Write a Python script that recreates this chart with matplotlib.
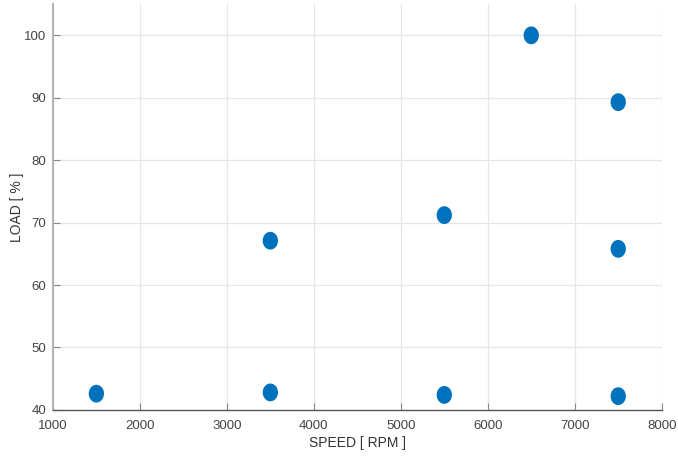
import numpy as np
import matplotlib
matplotlib.use("Agg")
import matplotlib.pyplot as plt
from matplotlib.path import Path
from matplotlib.markers import MarkerStyle

speed = [1500, 3500, 3500, 5500, 5500, 6500, 7500, 7500, 7500]
load = [42.6, 42.8, 67.1, 71.2, 42.4, 100.0, 89.3, 65.8, 42.2]
xticks = [1000, 2000, 3000, 4000, 5000, 6000, 7000, 8000]
yticks = [40, 50, 60, 70, 80, 90, 100]

plt.rcParams['font.family'] = ['Liberation Sans', 'DejaVu Sans']

fig = plt.figure(figsize=(6.78, 4.59), dpi=100)
ax = fig.add_axes([0.078, 0.107, 0.898, 0.884])

t = np.linspace(0, 2 * np.pi, 60)
ell = Path(np.column_stack([0.86 * np.cos(t), np.sin(t)]), closed=True)
ax.scatter(speed, load, marker=MarkerStyle(ell), s=12.8**2, color='#0072BD',
           edgecolors='none', zorder=3)

ax.set_xlim(1000, 8000)
ax.set_ylim(40, 105)
ax.set_xticks(xticks)
ax.set_yticks(yticks)
ax.grid(True, color='#e6e6e6', linewidth=0.9)
ax.set_axisbelow(True)
for s in ['top', 'right']:
    ax.spines[s].set_visible(False)
ax.spines['left'].set_color('#b5b5b5')
ax.spines['left'].set_linewidth(1.5)
ax.spines['bottom'].set_color('#555555')
ax.spines['bottom'].set_linewidth(1.0)
ax.tick_params(direction='in', length=5, width=0.8, colors='#888888',
               labelcolor='#444444', labelsize=9.5)
ax.tick_params(axis='x', pad=7)
ax.tick_params(axis='y', pad=5)
ax.set_xlabel('SPEED [ RPM ]', fontsize=10, color='#333333', labelpad=3)
ax.set_ylabel('LOAD [ % ]', fontsize=10, color='#333333', labelpad=0)

fig.savefig('out.png', dpi=100)
